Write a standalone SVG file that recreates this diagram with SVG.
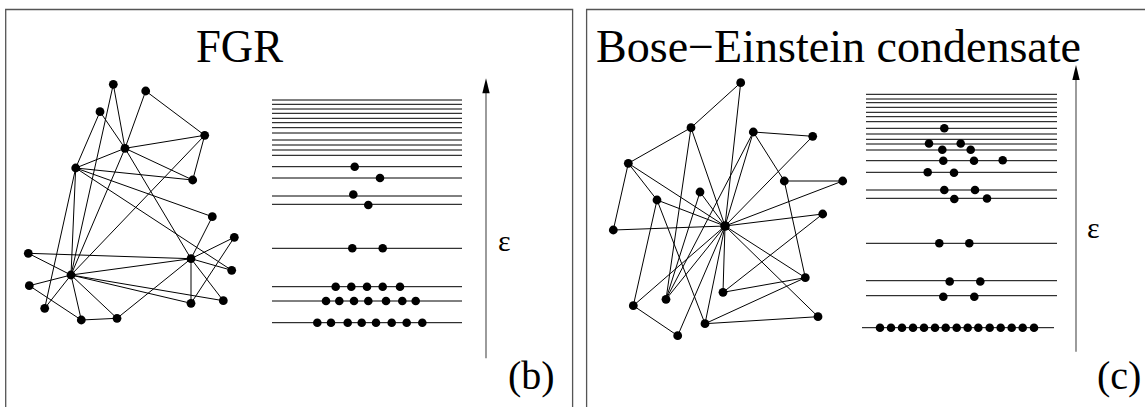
<svg xmlns="http://www.w3.org/2000/svg" width="1145" height="407" viewBox="0 0 1145 407">
<style>
.box{fill:none;stroke:#555;stroke-width:1.3}
.e line{stroke:#000;stroke-width:1}
.lv line{stroke:#000;stroke-width:1}
.n circle,.d circle{fill:#000}
.t{font-family:"Liberation Serif","Times New Roman",serif;fill:#000}
.ax{stroke:#666;stroke-width:1.3}
</style>
<rect width="1145" height="407" fill="#fff"/>
<path class="box" d="M5.7,420 V9.5 H572.6 V420"/>
<path class="box" d="M586.6,420 V9.5 H1150"/>
<text class="t" x="196" y="62" font-size="46" textLength="87" lengthAdjust="spacingAndGlyphs">FGR</text>
<text class="t" x="596" y="62" font-size="46" textLength="485" lengthAdjust="spacingAndGlyphs">Bose−Einstein condensate</text>
<text class="t" x="508" y="389" font-size="40">(b)</text>
<text class="t" x="1097" y="389" font-size="40">(c)</text>
<text class="t" x="498" y="250.5" font-size="30">ε</text>
<text class="t" x="1087" y="237.5" font-size="30">ε</text>
<g id="axis-b"><line class="ax" x1="486" y1="358.3" x2="486" y2="90"/><polygon points="486,78.3 482.3,93.3 489.7,93.3" fill="#000"/></g>
<g id="axis-c"><line class="ax" x1="1076" y1="351.7" x2="1076" y2="77"/><polygon points="1076,65 1072.3,80 1079.7,80" fill="#000"/></g>
<g id="connectors" class="e">
<line x1="113.3" y1="84.3" x2="125" y2="148.3"/>
<line x1="113.3" y1="84.3" x2="71" y2="275"/>
<line x1="145.7" y1="91" x2="125" y2="148.3"/>
<line x1="145.7" y1="91" x2="204.7" y2="135.3"/>
<line x1="100" y1="111.7" x2="125" y2="148.3"/>
<line x1="100" y1="111.7" x2="75.7" y2="168"/>
<line x1="204.7" y1="135.3" x2="125" y2="148.3"/>
<line x1="204.7" y1="135.3" x2="192.7" y2="180"/>
<line x1="204.7" y1="135.3" x2="71" y2="275"/>
<line x1="125" y1="148.3" x2="75.7" y2="168"/>
<line x1="125" y1="148.3" x2="192.7" y2="180"/>
<line x1="125" y1="148.3" x2="71" y2="275"/>
<line x1="125" y1="148.3" x2="191" y2="258.7"/>
<line x1="75.7" y1="168" x2="192.7" y2="180"/>
<line x1="75.7" y1="168" x2="212.3" y2="216.7"/>
<line x1="75.7" y1="168" x2="231.7" y2="270.3"/>
<line x1="75.7" y1="168" x2="71" y2="275"/>
<line x1="75.7" y1="168" x2="44.7" y2="308.3"/>
<line x1="212.3" y1="216.7" x2="191" y2="258.7"/>
<line x1="234.3" y1="237.3" x2="191" y2="258.7"/>
<line x1="234.3" y1="237.3" x2="191" y2="303.3"/>
<line x1="28.3" y1="253.3" x2="191" y2="258.7"/>
<line x1="28.3" y1="253.3" x2="71" y2="275"/>
<line x1="191" y1="258.7" x2="231.7" y2="270.3"/>
<line x1="191" y1="258.7" x2="71" y2="275"/>
<line x1="191" y1="258.7" x2="191" y2="303.3"/>
<line x1="191" y1="258.7" x2="223.3" y2="300.7"/>
<line x1="191" y1="258.7" x2="117" y2="318.3"/>
<line x1="71" y1="275" x2="29.3" y2="285.7"/>
<line x1="71" y1="275" x2="44.7" y2="308.3"/>
<line x1="71" y1="275" x2="81.3" y2="320"/>
<line x1="71" y1="275" x2="117" y2="318.3"/>
<line x1="71" y1="275" x2="191" y2="303.3"/>
<line x1="71" y1="275" x2="223.3" y2="300.7"/>
<line x1="29.3" y1="285.7" x2="81.3" y2="320"/>
<line x1="81.3" y1="320" x2="117" y2="318.3"/>
<line x1="740.7" y1="82.7" x2="691" y2="127.7"/>
<line x1="740.7" y1="82.7" x2="725" y2="226"/>
<line x1="691" y1="127.7" x2="628.3" y2="163.3"/>
<line x1="691" y1="127.7" x2="725" y2="226"/>
<line x1="691" y1="127.7" x2="666" y2="299.3"/>
<line x1="753.3" y1="132" x2="812.7" y2="136.3"/>
<line x1="753.3" y1="132" x2="784.3" y2="181"/>
<line x1="753.3" y1="132" x2="725" y2="226"/>
<line x1="753.3" y1="132" x2="666" y2="299.3"/>
<line x1="812.7" y1="136.3" x2="725" y2="226"/>
<line x1="628.3" y1="163.3" x2="613.3" y2="230"/>
<line x1="628.3" y1="163.3" x2="657" y2="200"/>
<line x1="628.3" y1="163.3" x2="725" y2="226"/>
<line x1="784.3" y1="181" x2="842.7" y2="181"/>
<line x1="784.3" y1="181" x2="805.3" y2="277.7"/>
<line x1="842.7" y1="181" x2="725" y2="226"/>
<line x1="700" y1="192" x2="725" y2="226"/>
<line x1="700" y1="192" x2="666" y2="299.3"/>
<line x1="657" y1="200" x2="725" y2="226"/>
<line x1="657" y1="200" x2="633.3" y2="305.7"/>
<line x1="657" y1="200" x2="705" y2="323.7"/>
<line x1="822.7" y1="214" x2="725" y2="226"/>
<line x1="822.7" y1="214" x2="723" y2="292.3"/>
<line x1="613.3" y1="230" x2="725" y2="226"/>
<line x1="805.3" y1="277.7" x2="725" y2="226"/>
<line x1="805.3" y1="277.7" x2="723" y2="292.3"/>
<line x1="805.3" y1="277.7" x2="705" y2="323.7"/>
<line x1="723" y1="292.3" x2="725" y2="226"/>
<line x1="666" y1="299.3" x2="725" y2="226"/>
<line x1="633.3" y1="305.7" x2="725" y2="226"/>
<line x1="633.3" y1="305.7" x2="677.7" y2="335.7"/>
<line x1="677.7" y1="335.7" x2="725" y2="226"/>
<line x1="705" y1="323.7" x2="725" y2="226"/>
<line x1="705" y1="323.7" x2="818" y2="316.7"/>
<line x1="818" y1="316.7" x2="725" y2="226"/>
</g>
<g class="n">
<g id="bA"><circle cx="113.3" cy="84.3" r="4.4"/></g>
<g id="bB"><circle cx="145.7" cy="91" r="4.4"/></g>
<g id="bC"><circle cx="100" cy="111.7" r="4.4"/></g>
<g id="bD"><circle cx="204.7" cy="135.3" r="4.4"/></g>
<g id="bE"><circle cx="125" cy="148.3" r="4.4"/></g>
<g id="bF"><circle cx="75.7" cy="168" r="4.4"/></g>
<g id="bG"><circle cx="192.7" cy="180" r="4.4"/></g>
<g id="bH"><circle cx="212.3" cy="216.7" r="4.4"/></g>
<g id="bI"><circle cx="234.3" cy="237.3" r="4.4"/></g>
<g id="bJ"><circle cx="28.3" cy="253.3" r="4.4"/></g>
<g id="bK"><circle cx="191" cy="258.7" r="4.4"/></g>
<g id="bL"><circle cx="231.7" cy="270.3" r="4.4"/></g>
<g id="bM"><circle cx="71" cy="275" r="4.4"/></g>
<g id="bN"><circle cx="29.3" cy="285.7" r="4.4"/></g>
<g id="bO"><circle cx="44.7" cy="308.3" r="4.4"/></g>
<g id="bP"><circle cx="191" cy="303.3" r="4.4"/></g>
<g id="bQ"><circle cx="223.3" cy="300.7" r="4.4"/></g>
<g id="bR"><circle cx="81.3" cy="320" r="4.4"/></g>
<g id="bS"><circle cx="117" cy="318.3" r="4.4"/></g>
<g id="ca"><circle cx="740.7" cy="82.7" r="4.4"/></g>
<g id="cb"><circle cx="691" cy="127.7" r="4.4"/></g>
<g id="cc"><circle cx="753.3" cy="132" r="4.4"/></g>
<g id="cd"><circle cx="812.7" cy="136.3" r="4.4"/></g>
<g id="ce"><circle cx="628.3" cy="163.3" r="4.4"/></g>
<g id="cf"><circle cx="784.3" cy="181" r="4.4"/></g>
<g id="cg"><circle cx="842.7" cy="181" r="4.4"/></g>
<g id="ch"><circle cx="700" cy="192" r="4.4"/></g>
<g id="ci"><circle cx="657" cy="200" r="4.4"/></g>
<g id="cj"><circle cx="822.7" cy="214" r="4.4"/></g>
<g id="ck"><circle cx="613.3" cy="230" r="4.4"/></g>
<g id="cZ"><circle cx="725" cy="226" r="4.8"/></g>
<g id="cl"><circle cx="805.3" cy="277.7" r="4.4"/></g>
<g id="cm"><circle cx="723" cy="292.3" r="4.4"/></g>
<g id="cn"><circle cx="666" cy="299.3" r="4.4"/></g>
<g id="co"><circle cx="633.3" cy="305.7" r="4.4"/></g>
<g id="cp"><circle cx="818" cy="316.7" r="4.4"/></g>
<g id="cq"><circle cx="705" cy="323.7" r="4.4"/></g>
<g id="cr"><circle cx="677.7" cy="335.7" r="4.4"/></g>
</g>
<g id="levels-b" class="lv">
<line x1="272" y1="100" x2="462" y2="100"/>
<line x1="272" y1="104.3" x2="462" y2="104.3"/>
<line x1="272" y1="109" x2="462" y2="109"/>
<line x1="272" y1="113.3" x2="462" y2="113.3"/>
<line x1="272" y1="118.3" x2="462" y2="118.3"/>
<line x1="272" y1="122.7" x2="462" y2="122.7"/>
<line x1="272" y1="127.7" x2="462" y2="127.7"/>
<line x1="272" y1="133" x2="462" y2="133"/>
<line x1="272" y1="140" x2="462" y2="140"/>
<line x1="272" y1="145" x2="462" y2="145"/>
<line x1="272" y1="150" x2="462" y2="150"/>
<line x1="272" y1="155.3" x2="462" y2="155.3"/>
<line x1="272" y1="166.7" x2="462" y2="166.7"/>
<line x1="272" y1="178" x2="462" y2="178"/>
<line x1="272" y1="196" x2="462" y2="196"/>
<line x1="272" y1="204.3" x2="462" y2="204.3"/>
<line x1="272" y1="248.3" x2="462" y2="248.3"/>
<line x1="272" y1="286.7" x2="462" y2="286.7"/>
<line x1="272" y1="301" x2="462" y2="301"/>
<line x1="272" y1="322.7" x2="462" y2="322.7"/>
</g>
<g id="dots-b" class="d">
<circle cx="354.7" cy="166.7" r="4.3"/><circle cx="380" cy="178" r="4.3"/>
<circle cx="353.3" cy="194.5" r="4.3"/><circle cx="368.3" cy="205" r="4.3"/>
<circle cx="352.3" cy="248.3" r="4.3"/><circle cx="382.7" cy="248.3" r="4.3"/>
<circle cx="335.7" cy="286.7" r="4.3"/><circle cx="351.3" cy="286.7" r="4.3"/><circle cx="367" cy="286.7" r="4.3"/><circle cx="382.7" cy="286.7" r="4.3"/><circle cx="400" cy="286.7" r="4.3"/>
<circle cx="326" cy="301" r="4.3"/><circle cx="339.3" cy="301" r="4.3"/><circle cx="354" cy="301" r="4.3"/><circle cx="368.3" cy="301" r="4.3"/><circle cx="386" cy="301" r="4.3"/><circle cx="402.3" cy="301" r="4.3"/><circle cx="415.7" cy="301" r="4.3"/>
<circle cx="317.3" cy="322.7" r="4.3"/><circle cx="331" cy="322.7" r="4.3"/><circle cx="347.7" cy="322.7" r="4.3"/><circle cx="361.7" cy="322.7" r="4.3"/><circle cx="376" cy="322.7" r="4.3"/><circle cx="391.7" cy="322.7" r="4.3"/><circle cx="406.7" cy="322.7" r="4.3"/><circle cx="422.3" cy="322.7" r="4.3"/>
</g>
<g id="levels-c" class="lv">
<line x1="866" y1="94.3" x2="1057" y2="94.3"/>
<line x1="866" y1="99" x2="1057" y2="99"/>
<line x1="866" y1="102.7" x2="1057" y2="102.7"/>
<line x1="866" y1="107.3" x2="1057" y2="107.3"/>
<line x1="866" y1="112.3" x2="1057" y2="112.3"/>
<line x1="866" y1="116.7" x2="1057" y2="116.7"/>
<line x1="866" y1="121.7" x2="1057" y2="121.7"/>
<line x1="866" y1="128.3" x2="1057" y2="128.3"/>
<line x1="866" y1="134" x2="1057" y2="134"/>
<line x1="866" y1="139.3" x2="1057" y2="139.3"/>
<line x1="866" y1="144" x2="1057" y2="144"/>
<line x1="866" y1="150" x2="1057" y2="150"/>
<line x1="866" y1="160.7" x2="1057" y2="160.7"/>
<line x1="866" y1="172.3" x2="1057" y2="172.3"/>
<line x1="866" y1="190" x2="1057" y2="190"/>
<line x1="866" y1="198.3" x2="1057" y2="198.3"/>
<line x1="866" y1="243.3" x2="1057" y2="243.3"/>
<line x1="866" y1="280.7" x2="1057" y2="280.7"/>
<line x1="866" y1="295.7" x2="1057" y2="295.7"/>
<line x1="862" y1="327.7" x2="1054" y2="327.7"/>
</g>
<g id="dots-c" class="d">
<circle cx="944.3" cy="128.3" r="4.3"/>
<circle cx="929" cy="143.5" r="4.3"/><circle cx="960.7" cy="143.5" r="4.3"/>
<circle cx="942.3" cy="149.8" r="4.3"/><circle cx="970.7" cy="149.8" r="4.3"/>
<circle cx="943.3" cy="160.7" r="4.3"/><circle cx="974" cy="160.7" r="4.3"/><circle cx="1002.7" cy="160.2" r="4.3"/>
<circle cx="927.7" cy="172.3" r="4.3"/><circle cx="954" cy="172.7" r="4.3"/>
<circle cx="944.3" cy="190" r="4.3"/><circle cx="975" cy="190" r="4.3"/>
<circle cx="954.3" cy="199" r="4.3"/><circle cx="987" cy="198.5" r="4.3"/>
<circle cx="939.3" cy="243.3" r="4.3"/><circle cx="969.3" cy="243.3" r="4.3"/>
<circle cx="949.7" cy="281.5" r="4.3"/><circle cx="980.3" cy="281.5" r="4.3"/>
<circle cx="943.3" cy="296.8" r="4.3"/><circle cx="974.3" cy="296.8" r="4.3"/>
<circle cx="880" cy="327.7" r="4.3"/><circle cx="891" cy="327.7" r="4.3"/><circle cx="902" cy="327.7" r="4.3"/><circle cx="913" cy="327.7" r="4.3"/><circle cx="924" cy="327.7" r="4.3"/><circle cx="935" cy="327.7" r="4.3"/><circle cx="945.7" cy="327.7" r="4.3"/><circle cx="956.7" cy="327.7" r="4.3"/><circle cx="967.7" cy="327.7" r="4.3"/><circle cx="978.3" cy="327.7" r="4.3"/><circle cx="989.7" cy="327.7" r="4.3"/><circle cx="1000.7" cy="327.7" r="4.3"/><circle cx="1011.7" cy="327.7" r="4.3"/><circle cx="1022.7" cy="327.7" r="4.3"/><circle cx="1034" cy="327.7" r="4.3"/>
</g>
</svg>
